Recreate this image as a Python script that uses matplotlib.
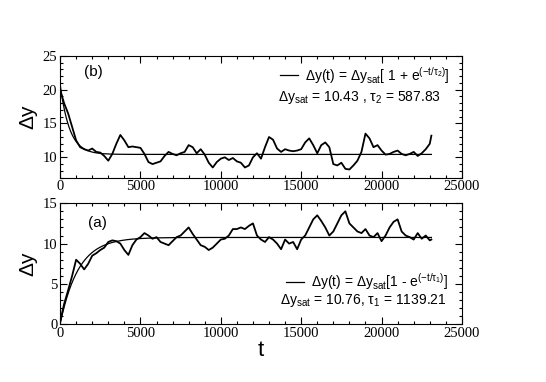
import numpy as np
import matplotlib.pyplot as plt
from matplotlib.ticker import MultipleLocator

# time grid of the readings (every 250 steps, last point at the end of the run)
t = list(range(0, 23001, 250)) + [23100]

# panel (b): relaxation from above
dy_b = [20.0, 18.0, 16.5, 14.5, 12.5, 11.5, 11.2, 11.0, 11.3, 10.8,
        10.7, 10.2, 9.5, 10.5, 12.0, 13.3, 12.5, 11.5, 11.6, 11.5,
        11.4, 10.5, 9.3, 9.0, 9.2, 9.4, 10.2, 10.8, 10.5, 10.3,
        10.6, 10.8, 11.8, 11.5, 10.6, 11.2, 10.4, 9.2, 8.5, 9.3,
        9.8, 10.0, 9.6, 9.9, 9.4, 9.2, 8.5, 8.8, 10.0, 10.6,
        9.8, 11.5, 13.0, 12.6, 11.3, 10.8, 11.2, 11.0, 10.9, 11.0,
        11.2, 12.2, 12.8, 11.8, 10.6, 11.8, 12.2, 11.5, 9.0, 8.8,
        9.2, 8.3, 8.2, 8.8, 9.5, 10.8, 13.5, 12.8, 11.5, 11.8,
        11.0, 10.4, 10.5, 10.8, 11.0, 10.5, 10.3, 10.5, 10.8, 10.2,
        10.6, 11.2, 12.0, 13.2]

# panel (a): growth from zero
dy_a = [0.3, 2.5, 4.2, 6.0, 8.0, 7.5, 6.8, 7.5, 8.5, 8.8,
        9.2, 9.5, 10.2, 10.4, 10.3, 10.0, 9.2, 8.6, 9.8, 10.5,
        10.8, 11.3, 11.0, 10.6, 10.8, 10.2, 10.0, 9.8, 10.3, 10.8,
        11.0, 11.5, 12.0, 11.2, 10.5, 9.8, 9.6, 9.2, 9.5, 10.0,
        10.5, 10.6, 11.0, 11.8, 11.8, 12.0, 11.8, 12.2, 12.5, 11.0,
        10.5, 10.2, 10.8, 10.5, 10.0, 9.3, 10.5, 10.0, 10.2, 9.3,
        10.5, 11.0, 12.0, 13.0, 13.5, 12.8, 12.0, 11.0, 11.5, 12.5,
        13.5, 14.0, 12.5, 12.0, 11.5, 11.3, 11.8, 11.0, 10.8, 11.3,
        10.3, 11.0, 12.0, 12.7, 13.0, 11.5, 11.0, 10.8, 10.5, 11.3,
        10.6, 11.0, 10.4, 10.5]

# fit parameters shown in the legends
dysat_b, tau2 = 10.43, 587.83
dysat_a, tau1 = 10.76, 1139.21

plt.rcParams['mathtext.fontset'] = 'custom'
plt.rcParams['mathtext.rm'] = 'Liberation Sans'
plt.rcParams['mathtext.default'] = 'regular'

tf = np.linspace(0, 23100, 500)
fit_b = dysat_b * (1 + np.exp(-tf / tau2))
fit_a = dysat_a * (1 - np.exp(-tf / tau1))

fig = plt.figure(figsize=(5.46, 3.82), dpi=100)
ax_b = fig.add_axes([0.110, 0.535, 0.736, 0.319])
ax_a = fig.add_axes([0.110, 0.151, 0.736, 0.317])

serif = 'Liberation Serif'
sans = 'Liberation Sans'

for ax in (ax_b, ax_a):
    ax.set_xlim(0, 25000)
    ax.xaxis.set_major_locator(MultipleLocator(5000))
    ax.xaxis.set_minor_locator(MultipleLocator(1000))
    ax.yaxis.set_major_locator(MultipleLocator(5))
    ax.yaxis.set_minor_locator(MultipleLocator(1))
    ax.tick_params(which='both', direction='in', top=True, right=True,
                   labelsize=10.5, pad=2, width=0.8)
    ax.tick_params(which='major', length=5)
    ax.tick_params(which='minor', length=2.5)
    for lab in ax.get_xticklabels() + ax.get_yticklabels():
        lab.set_fontfamily(serif)
    ax.set_ylabel(r'$\Delta$y', fontsize=15, fontfamily=sans, labelpad=2)

# panel (b)
ax_b.set_ylim(7, 25)
ax_b.plot(t, dy_b, color='black', lw=1.3)
ax_b.plot(tf, fit_b, color='black', lw=0.9,
          label=r'$\Delta$y(t) = $\Delta$y$_{sat}$[ 1 + e$^{(-t/\tau_2)}$]')
ax_b.text(0.06, 0.83, '(b)', transform=ax_b.transAxes, fontsize=11, fontfamily=sans)
ax_b.legend(loc='upper right', bbox_to_anchor=(1.0, 1.03), frameon=False,
            handlelength=1.3, handletextpad=0.5, prop={'family': sans, 'size': 10})
ax_b.text(0.745, 0.63, r'$\Delta$y$_{sat}$ = 10.43 , $\tau_2$ = 587.83',
          transform=ax_b.transAxes, ha='center', fontsize=10, fontfamily=sans)

# panel (a)
ax_a.set_ylim(0, 15)
ax_a.plot(t, dy_a, color='black', lw=1.3)
ax_a.plot(tf, fit_a, color='black', lw=0.9,
          label=r'$\Delta$y(t) = $\Delta$y$_{sat}$[1 - e$^{(-t/\tau_1)}$]')
ax_a.text(0.07, 0.80, '(a)', transform=ax_a.transAxes, fontsize=11, fontfamily=sans)
ax_a.legend(loc='center left', bbox_to_anchor=(0.53, 0.35), frameon=False,
            handlelength=1.3, handletextpad=0.5, prop={'family': sans, 'size': 10})
ax_a.text(0.755, 0.17, r'$\Delta$y$_{sat}$ = 10.76, $\tau_1$ = 1139.21',
          transform=ax_a.transAxes, ha='center', fontsize=10, fontfamily=sans)
ax_a.set_xlabel('t', fontsize=16, fontfamily=sans, labelpad=0)

fig.savefig('out.png', dpi=100)
